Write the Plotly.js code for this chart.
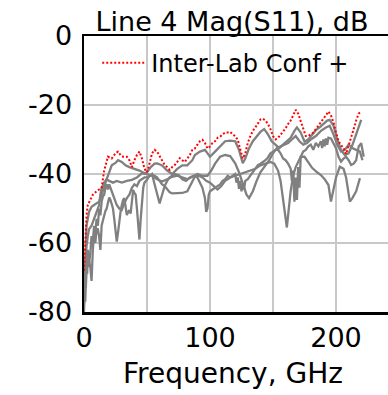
<!DOCTYPE html>
<html>
<head>
<meta charset="utf-8">
<script src="https://cdn.plot.ly/plotly-3.0.1.min.js"></script>
<style>
html,body{margin:0;padding:0;overflow:hidden;background:#fff;}
#chart{width:420px;height:395px;}
</style>
</head>
<body>
<div id="chart"></div>
<script>
// Upper inter-lab confidence bound (red dotted)
var confF = [0,1,2,3,5,7,10,12,14,16,17,19,22,25,27,29,31,34,36,38,40,42,44,46,48,50,52,54,56,58,60,62,64,66,68,70,72,74,76,78,80,82,84,86,88,90,92,94,96,98,100,102,104,106,108,110,112,114,116,118,120,122,124,126,128,130,132,134,136,138,140,142,144,146,148,150,152,154,156,158,160,162,164,166,168,170,172,174,176,178,180,182,184,186,188,190,192,194,196,198,200,202,204,206,208,210,212,214,216,218,220];
var confDB = [-68,-58,-52,-49,-47.5,-46,-45,-44.5,-44,-39,-37.5,-35,-35.5,-34,-33.5,-34.5,-35,-35,-36,-38,-36,-34.5,-33.5,-35.5,-38.5,-39.5,-37,-34,-33,-33.5,-34.8,-36,-37.4,-38,-38.8,-38,-37.4,-36.5,-35.4,-36,-36.5,-35.5,-34.5,-33,-32.6,-31.5,-30.5,-30.1,-31,-32.6,-32,-31,-30.5,-29.5,-29.2,-28.5,-28,-28,-27.8,-28.5,-29,-30.1,-33,-35.5,-34,-31,-29,-27.5,-26.5,-25.5,-24.2,-24,-24.5,-25.5,-27,-29,-30,-29.5,-28.6,-27.5,-26.8,-25.5,-24.5,-23,-21.4,-22.5,-24.8,-27,-29,-29,-28.5,-28,-27,-25.8,-25,-24,-23,-21.9,-23,-25,-28,-30.5,-31.6,-32.5,-34.2,-32,-29.5,-27,-24.5,-22.5,-21.9];

// Measurement A (upper gray)
var aF = [0,1,2,4,6,8,10,12,14,16,18,20,22,25,27,30,33,36,40,44,48,50,53,56,58,62,66,70,74,78,82,86,88,92,96,100,104,108,112,116,120,123,126,128,131,134,137,140,143,146,149,152,155,158,161,164,167,169,172,175,178,181,184,187,190,193,195,198,201,204,207,210,213,216,220];
var aDB = [-75,-62,-55,-51,-49.5,-49,-48.5,-48,-46,-43.5,-41.5,-39.5,-37.5,-36.8,-36,-36.5,-37.5,-38,-38.4,-39,-39.8,-39.5,-38,-37,-36.9,-37.5,-39,-40,-38.5,-37.5,-37.5,-36,-34.5,-33.5,-33,-35,-33.5,-32,-30.5,-30.3,-30.5,-33,-36.9,-35.5,-32.5,-30.5,-29,-27.8,-27,-28.5,-30.5,-31.6,-32.5,-31.5,-30.5,-29.5,-27.5,-26.5,-28,-30.6,-30,-28.5,-27.3,-26.5,-25.5,-24.5,-24.3,-26,-30,-33,-34.5,-34,-31.6,-28.5,-24.3];

// Measurement B (smooth, mid)
var bF = [0,1,2,3,4,6,8,10,12,13,14,16,18,20,23,26,30,34,38,42,46,50,54,58,62,66,70,74,78,82,86,90,94,98,101,104,108,112,116,120,123,126,129,131,134,137,140,143,147,150,153,156,159,162,165,168,171,174,177,180,184,188,192,195,198,201,204,207,210,213,216,219,221];
var bDB = [-72,-66,-61,-58,-56,-55,-53,-51,-49,-46,-44,-42.5,-41.5,-42,-42.5,-42,-42.5,-42,-41.7,-41,-39.8,-40,-40.5,-41.5,-42.2,-41.5,-40.8,-40.5,-41,-41.5,-40.8,-40,-40.5,-40.5,-39,-37,-35,-34.5,-34.8,-36.9,-39.5,-43,-46,-47,-45,-42,-39.5,-38,-36,-34,-32.5,-32,-31.5,-31,-30,-29,-30.5,-31.5,-31,-30,-29,-27.5,-26.5,-26,-28.5,-31.5,-33.5,-33,-31.5,-32.5,-33,-33.5,-36];

// Measurement C (noisy)
var cF = [0,0.5,1,1.5,2,2.5,3,3.5,4,5,6,7,8,9,10,11,12,13,14,15,16,17,18,19,20,21,22,23,24,25,26,27,28,29,30,31,32,33,34,35,36,37,38,39,40,41,42,43,44,45,46,47,48,50,52,54,56,58,60,62,64,66,68,70,72,75,78,81,84,87,90,92,94,96,97,98,99,100,102,104,106,108,110,112,114,116,118,120,121,122,123,124,125,126,127,128,130,132,134,136,138,140,142,144,146,148,150,152,154,156,158,160,162,164,165,166,167,168,169,170,171,172,174,176,178,180,182,184,186,188,189,190,191,192,193,194,196,198,200,202,204,206,208,210,212,214,216,218,220,222];
var cDB = [-80,-74,-77,-70,-66,-69,-64,-67,-65,-67,-71,-62,-57,-60,-56,-56,-58,-62,-55,-53.5,-52,-50.7,-50,-48,-46.8,-47.5,-48.7,-50,-53,-56,-59.6,-57,-53,-51,-49,-47.5,-47,-49,-51.9,-51,-50.5,-51.5,-48,-44.6,-45.5,-46,-50,-55,-59,-53,-47,-44,-42.5,-41.7,-40.5,-40,-43,-46,-48.5,-46,-43.5,-42,-41,-40.5,-40,-40.3,-41.5,-42,-41,-40.5,-41,-42.5,-44,-47,-51,-50,-46,-45,-44.6,-44,-43.5,-43,-42,-41.5,-40.5,-41,-40.5,-40,-42.5,-41,-44.3,-42,-45,-43,-44.5,-42,-41.5,-40.5,-39.3,-38.5,-37.4,-37,-36.5,-36,-35.2,-34,-33.5,-33,-33,-34,-35.5,-36,-37,-38.4,-42,-39,-48,-41,-47.5,-38,-44,-35,-33.5,-33,-32,-31.5,-33,-31,-32,-30.5,-32.5,-30,-32,-29.7,-31.5,-29.5,-29.7,-31,-32.5,-35,-36.4,-35.5,-35,-36,-37.4,-37,-36,-32,-31.1,-35];

// Measurement D (lower, deep dips)
var dF = [0,0.5,1,1.5,2,3,4,5,6,7,8,9,10,11,12,13,14,15,16,17,18,19,20,22,24,26,28,30,32,34,36,38,40,42,44,46,48,50,52,54,56,58,60,62,64,66,68,70,74,78,82,85,88,91,94,97,100,103,106,109,112,116,120,124,128,132,136,140,144,148,151,154,156,158,160,161,162,164,166,168,170,172,175,178,181,185,188,191,194,196,198,200,203,206,208,210,211,213,216,219];
var dDB = [-78,-72,-68,-73,-65,-62,-66,-63,-58,-60,-55,-57,-53,-55,-50,-52,-48,-46.5,-46,-44,-43,-44.5,-43,-45,-47,-49,-50,-50.4,-48.5,-47,-46,-44,-43,-43.5,-42,-41.5,-41,-41,-40.5,-40.2,-40.5,-41,-42,-43,-43.5,-44.5,-45.3,-45.6,-45.6,-45.5,-45,-43,-40.7,-40.5,-41,-42,-42.5,-43.5,-44.5,-43.5,-42,-41,-40.5,-40,-39.5,-39,-38.5,-37.5,-37,-36.5,-37,-39,-42,-47,-53,-55.5,-52,-45,-40.5,-38,-36.5,-35,-35,-36.5,-38.2,-39.5,-40.3,-41.5,-43.2,-48,-44,-41,-37.9,-38.5,-41,-45,-48,-47,-45,-41.2];

var xTickVals = [0,50,100,150,200,250];
var xTickText = ['0','','100','','200',''];
var yTickVals = [0,-20,-40,-60,-80];
var yTickText = ['0','-20','-40','-60','-80'];
var legendName = 'Inter-Lab Conf +';
var chartTitle = 'Line 4 Mag(S11), dB';
var xTitle = 'Frequency, GHz';

var gray = '#808080';
function grayTrace(x, y){
  return {x:x, y:y, type:'scatter', mode:'lines', line:{color:gray, width:2.3}, showlegend:false, hoverinfo:'skip'};
}
var data = [
  grayTrace(dF, dDB),
  grayTrace(cF, cDB),
  grayTrace(bF, bDB),
  grayTrace(aF, aDB),
  {x:confF, y:confDB, type:'scatter', mode:'lines', name:legendName,
   line:{color:'#ff0000', width:2, dash:'2px,2px'}}
];

var fam = 'DejaVu Sans, Verdana, sans-serif';
var layout = {
  width:420, height:395,
  margin:{l:84, r:21, t:36, b:83},
  paper_bgcolor:'#fff', plot_bgcolor:'#fff',
  font:{family:fam, size:27, color:'#000'},
  title:{text:chartTitle, font:{family:fam, size:27, color:'#000'},
         xref:'container', yref:'container', x:232/420, xanchor:'center', y:1-22/395, yanchor:'middle'},
  showlegend:true,
  legend:{x:0.042, y:0.983, xanchor:'left', yanchor:'top', bgcolor:'rgba(0,0,0,0)', borderwidth:0,
          font:{family:fam, size:24, color:'#000'}, itemwidth:44},
  annotations:[{text:xTitle, xref:'paper', yref:'paper', x:(233-84)/315, y:-(373-312)/276,
                xanchor:'center', yanchor:'middle', showarrow:false,
                font:{family:fam, size:28, color:'#000'}}],
  xaxis:{range:[0,250], tickmode:'array', tickvals:xTickVals, ticktext:xTickText,
         showgrid:true, gridcolor:'#c8c8c8', gridwidth:2, zeroline:false,
         showline:true, linecolor:'#000', linewidth:2.5, mirror:true, ticks:'',
         tickfont:{family:fam, size:27, color:'#000'}},
  yaxis:{range:[-80,0], tickmode:'array', tickvals:yTickVals, ticktext:yTickText,
         showgrid:true, gridcolor:'#c8c8c8', gridwidth:2, zeroline:false,
         showline:true, linecolor:'#000', linewidth:2.5, mirror:true, ticks:'',
         ticklabelstandoff:4,
         tickfont:{family:fam, size:27, color:'#000'}}
};
Plotly.newPlot('chart', data, layout, {displayModeBar:false, staticPlot:true});
</script>
</body>
</html>
